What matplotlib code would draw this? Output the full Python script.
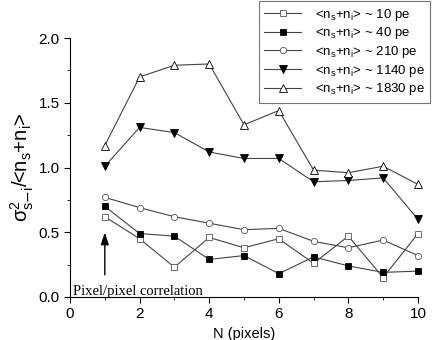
import numpy as np
import matplotlib.pyplot as plt

plt.rcParams['font.family'] = ['Liberation Sans', 'DejaVu Sans']
plt.rcParams['mathtext.default'] = 'regular'

N = [1, 2, 3, 4, 5, 6, 7, 8, 9, 10]
pe10 = [0.62, 0.45, 0.23, 0.46, 0.38, 0.45, 0.26, 0.47, 0.15, 0.49]
pe40 = [0.70, 0.49, 0.47, 0.29, 0.32, 0.18, 0.31, 0.24, 0.19, 0.20]
pe210 = [0.77, 0.69, 0.62, 0.57, 0.52, 0.53, 0.43, 0.38, 0.44, 0.32]
pe1140 = [1.01, 1.31, 1.27, 1.12, 1.07, 1.07, 0.89, 0.90, 0.92, 0.60]
pe1830 = [1.17, 1.70, 1.79, 1.80, 1.33, 1.44, 0.98, 0.96, 1.01, 0.87]

fig = plt.figure(figsize=(4.36, 3.40), dpi=100)
ax = fig.add_axes([0.1606, 0.1265, 0.798, 0.7615])

lbl = '<n$_s$+n$_i$> ~ %s pe'
kw = dict(color='#444444', lw=0.8, markeredgecolor='black', markeredgewidth=0.6, clip_on=False)
ax.plot(N, pe10, '-s', ms=4.5, mfc='white', markeredgecolor='#555555', label=lbl % '10',
        color='#444444', lw=0.8, markeredgewidth=0.6, clip_on=False)
ax.plot(N, pe40, '-s', ms=4.5, mfc='black', label=lbl % '40', **kw)
ax.plot(N, pe210, '-o', ms=4.5, mfc='white', label=lbl % '210',
        color='#444444', lw=0.8, markeredgecolor='#555555', markeredgewidth=0.6, clip_on=False)
ax.plot(N, pe1140, '-v', ms=5.5, mfc='black', label=lbl % '1140', **kw)
ax.plot(N, pe1830, '-^', ms=5.5, mfc='white', label=lbl % '1830', **kw)

ax.annotate('', xy=(1, 0.52), xytext=(1, 0.15),
            arrowprops=dict(arrowstyle='-|>,head_width=0.2,head_length=0.6',
                            color='black', lw=1.0, mutation_scale=12))
ax.text(0.08, 0.015, 'Pixel/pixel correlation', family='Liberation Serif', fontsize=10.5)

ax.set_xlim(0, 10)
ax.set_ylim(0, 2.0)
ax.set_xticks([0, 2, 4, 6, 8, 10])
ax.set_xticks([1, 3, 5, 7, 9], minor=True)
ax.set_yticks([0, 0.5, 1.0, 1.5, 2.0])
ax.set_yticks([0.25, 0.75, 1.25, 1.75], minor=True)
ax.set_yticklabels(['0.0', '0.5', '1.0', '1.5', '2.0'])
ax.tick_params(which='major', length=4, labelsize=11)
ax.tick_params(which='minor', length=2.5)
ax.spines['top'].set_visible(False)
ax.spines['right'].set_visible(False)

ax.set_xlabel('N (pixels)', fontsize=10.5)
ax.set_ylabel(r'$\sigma^2_{s\mathrm{-}i}$/<n$_s$+n$_i$>', fontsize=14.5, labelpad=2)

leg = ax.legend(loc='upper right', bbox_to_anchor=(1.055, 1.17), fontsize=9.5,
                frameon=True, fancybox=False, borderpad=0.45, labelspacing=0.2,
                handlelength=2.8, handletextpad=1.0)
leg.get_frame().set_edgecolor('#555555')
leg.get_frame().set_linewidth(0.8)

fig.savefig('out.png', dpi=100)
